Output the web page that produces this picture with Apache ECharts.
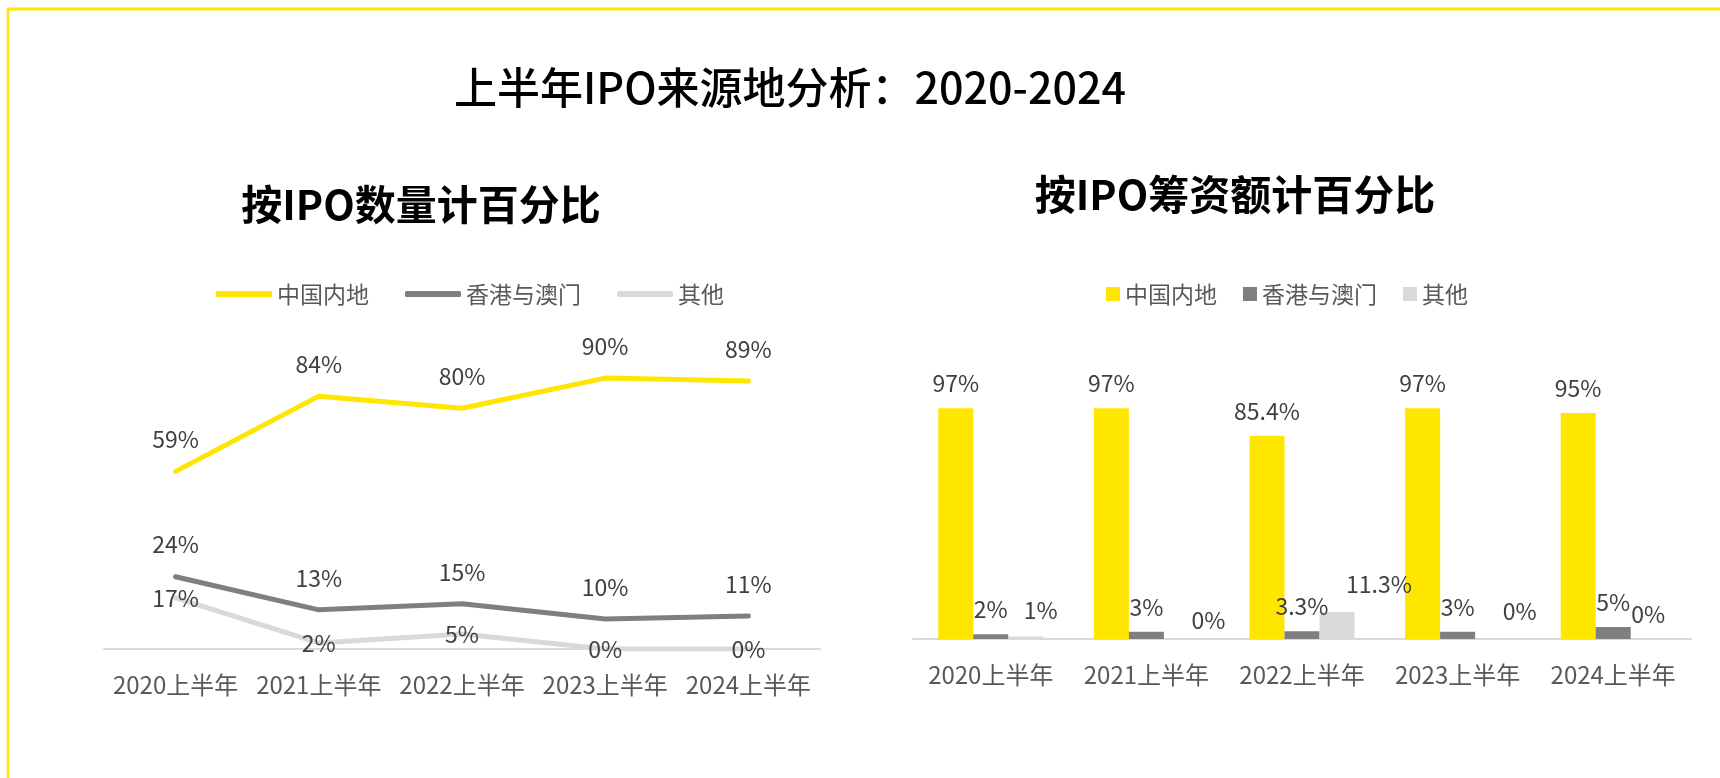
<!DOCTYPE html>
<html>
<head>
<meta charset="utf-8">
<title>上半年IPO来源地分析：2020-2024</title>
<script src="https://cdn.jsdelivr.net/npm/echarts@6/dist/echarts.min.js"></script>
<style>
  html, body { margin: 0; padding: 0; background: #fff; }
  #wrap { position: relative; width: 1720px; height: 778px; overflow: hidden; }
  #chart_count { position: absolute; left: 0; top: 0; width: 1720px; height: 778px; }
  #chart_amount { position: absolute; left: 860px; top: 0; width: 860px; height: 778px; }
</style>
</head>
<body>
<div id="wrap">
  <div id="chart_count"></div>
  <div id="chart_amount"></div>
</div>
<script>
// 类别 / 系列
const periods = ['2020上半年', '2021上半年', '2022上半年', '2023上半年', '2024上半年'];
const regionNames = ['中国内地', '香港与澳门', '其他'];

// 按IPO数量计百分比 (%)
const countMainland = [59, 84, 80, 90, 89];
const countHkMacau = [24, 13, 15, 10, 11];
const countOther = [17, 2, 5, 0, 0];

// 按IPO筹资额计百分比 (%)
const amountMainland = [97, 97, 85.4, 97, 95];
const amountHkMacau = [2, 3, 3.3, 3, 5];
const amountOther = [1, 0, 11.3, 0, 0];

const colors = ['#FFE600', '#7F7F7F', '#D9D9D9'];
const FONT = '"Noto Sans CJK SC", "Noto Sans", sans-serif';
const pct = (p) => p.value + '%';

function baseXAxis() {
  return {
    type: 'category',
    data: periods,
    boundaryGap: true,
    axisTick: { show: false },
    axisLine: { lineStyle: { color: '#D9D9D9', width: 2 } },
    axisLabel: { color: '#595959', fontSize: 24, fontFamily: FONT, margin: 24, interval: 0, hideOverlap: false }
  };
}
function hiddenYAxis() {
  return {
    type: 'value', min: 0, max: 100,
    axisLine: { show: false }, axisTick: { show: false },
    axisLabel: { show: false }, splitLine: { show: false }
  };
}

// ---------- 左：按IPO数量计百分比（折线） ----------
let countChart = echarts.init(document.getElementById('chart_count'));
const countData = [countMainland, countHkMacau, countOther];
let countSeries = countData.map((arr, i) => ({
  name: regionNames[i],
  type: 'line',
  data: arr,
  z: 3 - i,
  symbol: 'circle',
  symbolSize: 1,
  showSymbol: true,
  itemStyle: { color: colors[i] },
  lineStyle: { width: 5, color: colors[i], cap: 'round', join: 'round' },
  label: {
    show: true,
    position: i === 2 ? 'inside' : 'top',
    distance: 20,
    color: '#404040',
    fontSize: 23,
    fontFamily: FONT,
    formatter: pct
  },
  emphasis: { disabled: true }
}));

countChart.setOption({
  animation: false,
  color: colors,
  graphic: [
    { type: 'line', shape: { x1: 7, y1: 9, x2: 1720, y2: 9 }, style: { stroke: '#FFE600', lineWidth: 3 } },
    { type: 'line', shape: { x1: 8, y1: 8, x2: 8, y2: 778 }, style: { stroke: '#FFE600', lineWidth: 2.5 } },
    { type: 'text', x: 790, y: 88,
      style: { text: '上半年IPO来源地分析：2020-2024', fill: '#000', font: '500 43px ' + FONT,
               textAlign: 'center', textVerticalAlign: 'middle' } },
    { type: 'text', x: 421, y: 204,
      style: { text: '按IPO数量计百分比', fill: '#000', font: 'bold 41px ' + FONT,
               textAlign: 'center', textVerticalAlign: 'middle' } }
  ],
  legend: {
    left: 211, top: 276,
    icon: 'roundRect',
    itemWidth: 56, itemHeight: 6, itemGap: 36,
    textStyle: { color: '#595959', fontSize: 23, fontFamily: FONT, lineHeight: 26 },
    data: regionNames
  },
  grid: { left: 104, top: 348, width: 716, height: 301 },
  xAxis: baseXAxis(),
  yAxis: hiddenYAxis(),
  series: countSeries
});

// ---------- 右：按IPO筹资额计百分比（柱状） ----------
let amountChart = echarts.init(document.getElementById('chart_amount'));
const amountData = [amountMainland, amountHkMacau, amountOther];
// 其他 标签的手动微调（同原图）
const otherNudge = [[15, -2], [27, 6], [42, -3], [27, -3], [0, 0]];

let amountSeries = amountData.map((arr, i) => ({
  name: regionNames[i],
  type: 'bar',
  barWidth: 35,
  barGap: '0%',
  data: arr.map((v, j) => i === 2 ? { value: v, label: { offset: otherNudge[j] } } : v),
  itemStyle: { color: colors[i] },
  label: {
    show: true,
    position: 'top',
    distance: 13,
    color: '#404040',
    fontSize: 23,
    fontFamily: FONT,
    formatter: pct
  },
  emphasis: { disabled: true }
}));

amountChart.setOption({
  animation: false,
  color: colors,
  graphic: [
    { type: 'text', x: 375, y: 194,
      style: { text: '按IPO筹资额计百分比', fill: '#000', font: 'bold 41px ' + FONT,
               textAlign: 'center', textVerticalAlign: 'middle' } }
  ],
  legend: {
    left: 241, top: 276,
    icon: 'rect',
    itemWidth: 14, itemHeight: 14, itemGap: 26,
    textStyle: { color: '#595959', fontSize: 23, fontFamily: FONT, lineHeight: 26 },
    data: regionNames
  },
  grid: { left: 53, top: 401, width: 778, height: 238 },
  xAxis: baseXAxis(),
  yAxis: hiddenYAxis(),
  series: amountSeries
});

window.addEventListener('resize', () => {
  countChart.resize();
  amountChart.resize();
});
</script>
</body>
</html>
